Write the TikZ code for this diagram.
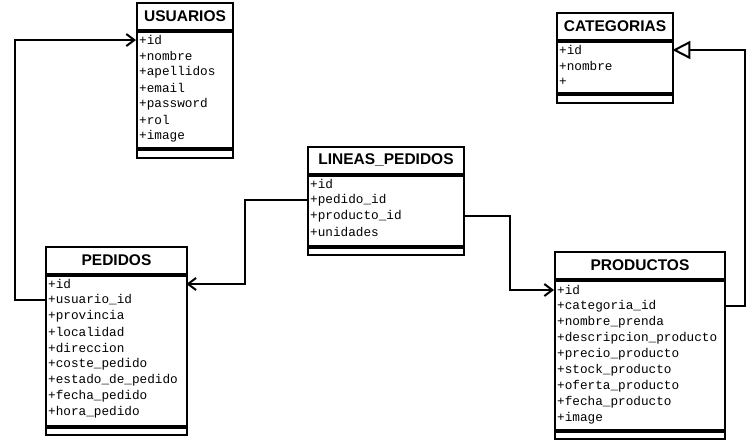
\documentclass[tikz,border=0pt]{standalone}
\usepackage{fontspec}
\setmainfont{Liberation Sans}
\setmonofont{Liberation Mono}
\usetikzlibrary{arrows.meta}

\begin{document}
\begin{tikzpicture}[x=1pt,y=-1pt,
  box/.style={draw,line width=2pt,inner sep=0pt,anchor=north},
  titlebox/.style={box,anchor=north west,minimum height=27pt,
    font=\bfseries\fontsize{15.5}{18}\selectfont},
  attr/.style={anchor=west,inner xsep=3pt,inner ysep=0pt,align=left,
    font=\ttfamily\fontsize{12.7}{14}\selectfont},
  rel/.style={line width=2pt,-{Straight Barb[length=8pt,width=12pt]}},
  gen/.style={line width=2pt,-{Triangle[open,length=18pt,width=18pt,fill=white]}}]
  \fill[white] (0,0) rectangle (750,437);

  % USUARIOS
  \node[titlebox,minimum width=96pt] (usu) at (136,2) {USUARIOS};
  \node[box,minimum width=96pt,minimum height=116pt] (usu-a) at (usu.south) {};
  \node[box,minimum width=96pt,minimum height=8pt] (usu-b) at (usu-a.south) {};
  \foreach \t [count=\i] in {id,nombre,apellidos,email,password,rol,image}
    \node[attr,text width=90pt] (usu-\i) at (136,{24+16*\i}) {+\t};

  % CATEGORIAS
  \node[titlebox,minimum width=116pt] (cat) at (556,12) {CATEGORIAS};
  \node[box,minimum width=116pt,minimum height=51pt] (cat-a) at (cat.south) {};
  \node[box,minimum width=116pt,minimum height=8pt] (cat-b) at (cat-a.south) {};
  \foreach \t [count=\i] in {id,nombre,{}}
    \node[attr,text width=110pt] (cat-\i) at (556,{34+16*\i}) {+\t};

  % LINEAS_PEDIDOS
  \node[titlebox,minimum width=156pt] (lin) at (307,146) {LINEAS\_PEDIDOS};
  \node[box,minimum width=156pt,minimum height=70pt] (lin-a) at (lin.south) {};
  \node[box,minimum width=156pt,minimum height=7pt] (lin-b) at (lin-a.south) {};
  \foreach \t [count=\i] in {id,pedido\_id,producto\_id,unidades}
    \node[attr,text width=150pt] (lin-\i) at (307,{168+16*\i}) {+\t};

  % PEDIDOS
  \node[titlebox,minimum width=141pt] (ped) at (45,246) {PEDIDOS};
  \node[box,minimum width=141pt,minimum height=150pt] (ped-a) at (ped.south) {};
  \node[box,minimum width=141pt,minimum height=7pt] (ped-b) at (ped-a.south) {};
  \foreach \t [count=\i] in {id,usuario\_id,provincia,localidad,direccion,
      coste\_pedido,estado\_de\_pedido,fecha\_pedido,hora\_pedido}
    \node[attr,text width=135pt] (ped-\i) at (45,{268+16*\i}) {+\t};

  % PRODUCTOS
  \node[titlebox,minimum width=170pt] (pro) at (554,251) {PRODUCTOS};
  \node[box,minimum width=170pt,minimum height=149pt] (pro-a) at (pro.south) {};
  \node[box,minimum width=170pt,minimum height=7pt] (pro-b) at (pro-a.south) {};
  \foreach \t [count=\i] in {id,categoria\_id,nombre\_prenda,descripcion\_producto,
      precio\_producto,stock\_producto,oferta\_producto,fecha\_producto,image}
    \node[attr,text width=164pt] (pro-\i) at (554,{274+16*\i}) {+\t};

  % relaciones
  \draw[rel] (ped-2.west) -- ++(-30,0) |- (usu-1.west);
  \draw[rel] (lin-2.west) -- ++(-62,0) |- (ped-1.east);
  \draw[rel] (lin-3.east) -- ++(47,0) |- (pro-1.west);
  \draw[gen] (pro-2.east) -- ++(21,0) |- (cat-1.east);
\end{tikzpicture}
\end{document}
